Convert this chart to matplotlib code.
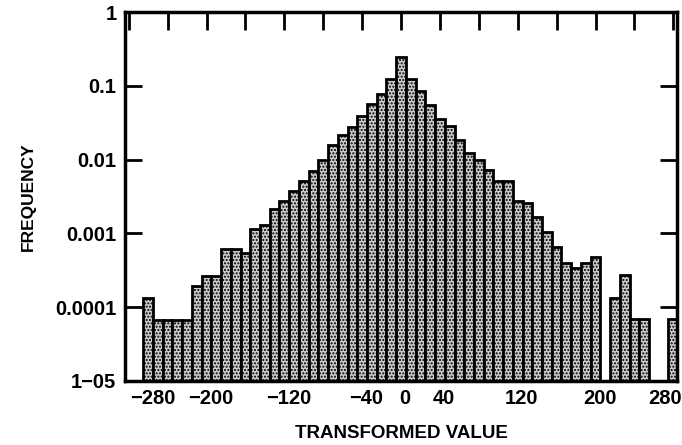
import matplotlib
matplotlib.use("Agg")
import matplotlib.pyplot as plt
import matplotlib.transforms as mtransforms
import numpy as np

plt.rcParams['font.family'] = ['Liberation Sans', 'DejaVu Sans']
plt.rcParams['hatch.color'] = '#6a6a6a'
plt.rcParams['hatch.linewidth'] = 1.0

# bin centres (width 10) and frequency, 0 = empty bin
bin_centers = np.arange(-280, 290, 10)
frequency = [
    0, 0, 1.31e-4, 6.7e-5, 6.7e-5, 6.7e-5, 6.7e-5, 1.94e-4, 2.65e-4, 2.65e-4,   # -280 .. -190
    6.1e-4, 6.1e-4, 5.4e-4, 1.13e-3, 1.29e-3, 2.11e-3, 2.73e-3, 3.73e-3, 5.1e-3, 7.1e-3,  # -180 .. -90
    9.8e-3, 0.016, 0.0218, 0.0276, 0.0385, 0.0571, 0.078, 0.124,   # -80 .. -10
    0.249,                                                         # 0
    0.124, 0.0838, 0.0554, 0.0355, 0.0282, 0.0186, 0.0123, 0.0098, 0.00718, 0.00509,  # 10 .. 100
    0.00509, 0.00273, 0.00254, 0.00168, 0.00105, 6.6e-4, 4.0e-4, 3.44e-4, 4.0e-4, 4.8e-4,  # 110 .. 200
    0, 1.32e-4, 2.73e-4, 7.0e-5, 7.0e-5, 0, 0, 7.0e-5,            # 210 .. 280
]

top_ticks = np.arange(-280, 281, 40)
x_labels = [-280, -200, -120, -40, 0, 40, 120, 200, 280]
y_ticks = [1, 0.1, 0.01, 0.001, 0.0001, 0.00001]
y_labels = ['1', '0.1', '0.01', '0.001', '0.0001', '1\u221205']

fig = plt.figure(figsize=(6.82, 4.45), dpi=100)
ax = fig.add_axes([0.183, 0.144, 0.810, 0.829])

freq = np.array(frequency, dtype=float)
keep = freq > 0
floor = 1e-5
ax.bar(bin_centers[keep], freq[keep] - floor, bottom=floor, width=10,
       facecolor='#cccccc', edgecolor='black', linewidth=2, hatch='.....')

ax.set_yscale('log')
ax.set_ylim(1e-5, 1)
ax.set_xlim(-284, 284)

ax.yaxis.set_major_locator(matplotlib.ticker.FixedLocator(y_ticks))
ax.yaxis.set_minor_locator(matplotlib.ticker.NullLocator())
ax.set_yticklabels(y_labels)

ax.set_xticks(x_labels)
ax.set_xticklabels(['\u2212%d' % -v if v < 0 else '%d' % v for v in x_labels])
ax.set_xticks(top_ticks, minor=True)
ax.xaxis.remove_overlapping_locs = False
ax.tick_params(axis='x', which='major', bottom=True, top=False, length=0, pad=6,
               labelsize=14.5)
ax.tick_params(axis='x', which='minor', bottom=False, top=True, direction='in',
               length=13, width=2)
ax.tick_params(axis='y', which='major', left=True, right=True, direction='in',
               length=12, width=2, labelsize=14.5, pad=6)

def shift(px):
    return mtransforms.ScaledTranslation(px / 100, 0, fig.dpi_scale_trans)

for lab in ax.get_yticklabels():
    lab.set_fontweight('bold')
xl = ax.get_xticklabels()
for lab in xl:
    lab.set_fontweight('bold')
    lab.set_transform(lab.get_transform() + shift(4))
xl[0].set_horizontalalignment('left')
xl[0].set_transform(xl[0].get_transform() + shift(-3))
xl[-1].set_horizontalalignment('right')
xl[-1].set_transform(xl[-1].get_transform() + shift(5))

for s in ax.spines.values():
    s.set_linewidth(2.5)

ax.set_xlabel('TRANSFORMED VALUE', fontsize=13.5, fontweight='bold', labelpad=12)
ax.set_ylabel('FREQUENCY', fontsize=12.5, fontweight='bold', labelpad=14)

fig.savefig('out.png', dpi=100)
